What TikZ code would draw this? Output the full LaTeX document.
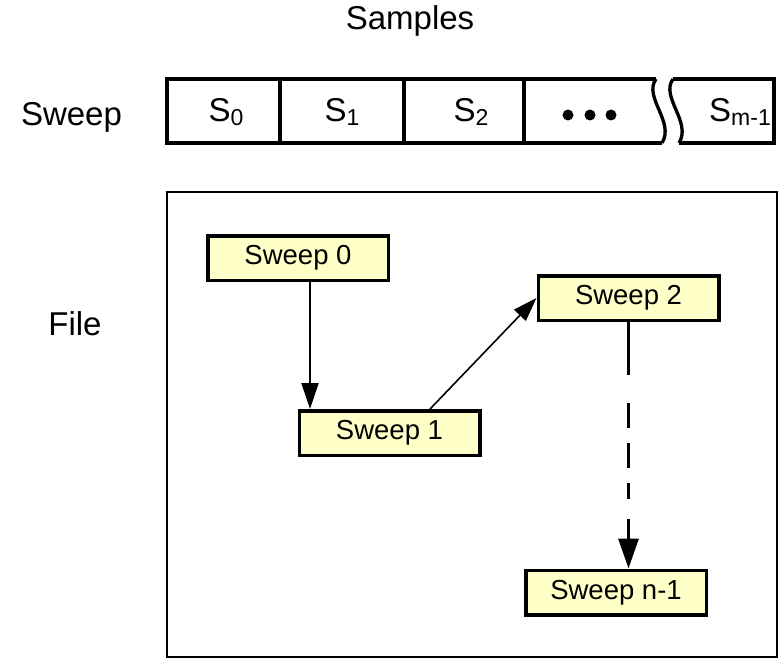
\documentclass[tikz,border=0pt]{standalone}
\usepackage{fontspec}
\setmainfont{Liberation Sans}
\usetikzlibrary{arrows.meta}

\definecolor{boxfill}{HTML}{FFFFC8}

% lowered, smaller index text
\newcommand{\lowidx}[1]{\raisebox{-4pt}{\fontsize{23}{26}\selectfont #1}}

\tikzset{
  biglabel/.style={font=\fontsize{33}{38}\selectfont, anchor=base, inner sep=0pt},
  sweepbox/.style={draw=black, line width=3.5pt, fill=boxfill,
    minimum width=180.5pt, minimum height=44.5pt, inner sep=0pt,
    font=\fontsize{27.5}{32}\selectfont},
  barline/.style={line width=3.3pt, line join=miter},
  flowarrow/.style={-{Triangle[length=26pt,width=17pt]}, line width=2.2pt},
}

\begin{document}
\begin{tikzpicture}[x=1pt,y=-1pt]
  \useasboundingbox (0,0) rectangle (783,660);

  % row and column captions
  \node[biglabel] (samples) at (410,30) {Samples};
  \node[biglabel] (sweeplbl) at (71.5,126) {Sweep};
  \node[biglabel] (filelbl) at (75,335) {File};

  % sample bar with a break before the last sample
  \draw[barline] (656,79) -- (167,79) -- (167,143) -- (662,143);
  \draw[barline] (656,79) .. controls (643,97) and (675,122) .. (662,143);
  \draw[barline] (673,79) .. controls (660,97) and (692,122) .. (679,143);
  \draw[barline] (673,79) -- (774,79) -- (774,143) -- (679,143);
  \draw[barline] (280,79) -- (280,143);
  \draw[barline] (404,79) -- (404,143);
  \draw[barline] (524,79) -- (524,143);

  \node[biglabel] (c0) at (226,122) {S\lowidx{0}};
  \node[biglabel] (c1) at (342,122) {S\lowidx{1}};
  \node[biglabel] (c2) at (471,122) {S\lowidx{2}};
  \node[biglabel] (cm) at (740,122) {S\lowidx{m-1}};
  \foreach \dx in {568,590,611}
    \fill (\dx,115) circle (5.5pt);

  % file frame
  \draw[line width=2.8pt] (167,192) rectangle (777,657);

  % sweeps stored in the file
  \node[sweepbox] (s0) at (298,258) {Sweep 0};
  \node[sweepbox] (s1) at (389.5,433) {Sweep 1};
  \node[sweepbox] (s2) at (628.5,298) {Sweep 2};
  \node[sweepbox] (sn) at (616,592.5) {Sweep n-1};

  \draw[flowarrow] ([xshift=12pt]s0.south) -- ([xshift=12pt]s0.south |- s1.north);
  \draw[-{Triangle[length=24pt,width=16pt]}, line width=1.6pt]
    ([xshift=40.5pt]s1.north) -- (s2.west);
  \draw[-{Triangle[length=30pt,width=20pt]}, line width=3.2pt,
        dash pattern=on 53pt off 28pt on 25pt off 15pt on 25pt off 15pt on 16pt off 20pt on 200pt off 1pt]
    (s2.south) -- (s2.south |- sn.north);
\end{tikzpicture}
\end{document}
